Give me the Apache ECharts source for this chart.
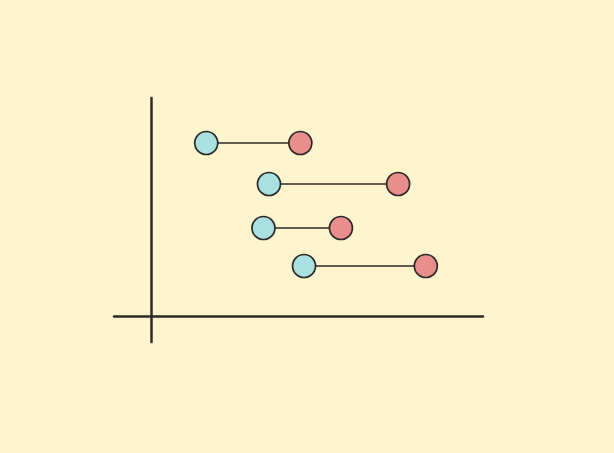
<!DOCTYPE html>
<html><head><meta charset="utf-8">
<script src="https://cdn.jsdelivr.net/npm/echarts@6/dist/echarts.min.js"></script>
<style>html,body{margin:0;padding:0;background:#fef4cd;}#c{width:614px;height:453px;}</style>
</head><body><div id="c"></div>
<script>
const rowPos = [173, 132, 88, 50];
const startVals = [15, 32, 30.5, 41.5];
const endVals = [40.5, 67, 51.5, 74.5];

const ink = '#2b2a26';
const series = [];
rowPos.forEach((y, i) => {
  series.push({
    type: 'line', data: [[startVals[i], y], [endVals[i], y]],
    symbol: 'none', lineStyle: { color: ink, width: 1.6 }, z: 2, silent: true
  });
});
series.push({
  type: 'scatter', data: rowPos.map((y, i) => [startVals[i], y]),
  symbolSize: 23, itemStyle: { color: '#a9e0e1', borderColor: ink, borderWidth: 1.7, opacity: 1 }, z: 5
});
series.push({
  type: 'scatter', data: rowPos.map((y, i) => [endVals[i], y]),
  symbolSize: 23, itemStyle: { color: '#e88f8e', borderColor: ink, borderWidth: 1.7, opacity: 1 }, z: 5
});

const chart = echarts.init(document.getElementById('c'));
chart.setOption({
  backgroundColor: '#fef4cd',
  animation: false,
  grid: { left: 114, right: 131, top: 98, bottom: 111 },
  xAxis: {
    type: 'value', min: -10, max: 90,
    axisLine: { show: true, onZero: true, lineStyle: { color: ink, width: 2.5 } },
    axisTick: { show: false }, axisLabel: { show: false }, splitLine: { show: false }
  },
  yAxis: {
    type: 'value', min: -26, max: 218,
    axisLine: { show: true, onZero: true, lineStyle: { color: ink, width: 2.5 } },
    axisTick: { show: false }, axisLabel: { show: false }, splitLine: { show: false }
  },
  series: series
});
</script></body></html>
